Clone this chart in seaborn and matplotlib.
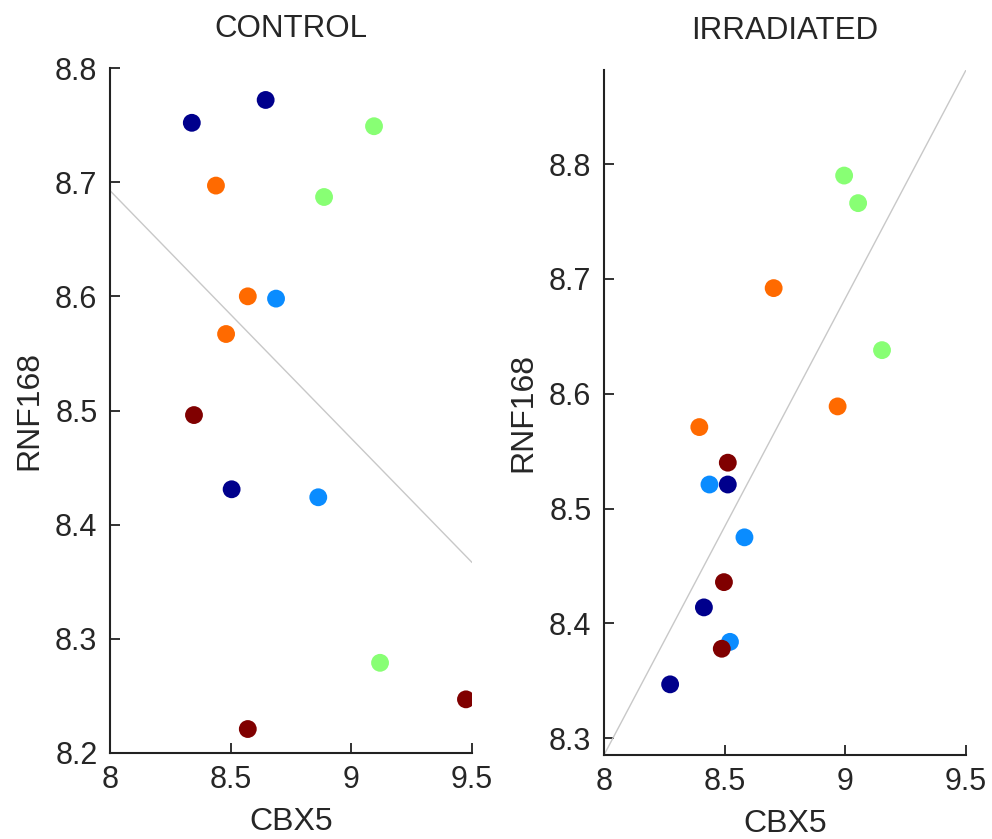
import numpy as np
import pandas as pd
import matplotlib
matplotlib.use("Agg")
import matplotlib.pyplot as plt
import seaborn as sns

sns.set_theme(style="white")
plt.rcParams['font.family'] = ['Liberation Sans', 'DejaVu Sans']
plt.rcParams['xtick.direction'] = 'in'
plt.rcParams['ytick.direction'] = 'in'
plt.rcParams['xtick.bottom'] = True
plt.rcParams['ytick.left'] = True

# ---- data ----
ctrl_x = [8.339, 8.645, 9.094, 8.439, 8.887, 8.571, 8.688, 8.481, 8.348, 8.504, 8.863, 9.119, 9.475, 8.571]
ctrl_y = [8.752, 8.772, 8.749, 8.697, 8.687, 8.600, 8.598, 8.567, 8.496, 8.431, 8.424, 8.279, 8.247, 8.221]
ctrl_g = ["g1", "g1", "g3", "g4", "g3", "g4", "g2", "g4", "g5", "g1", "g2", "g3", "g5", "g5"]

irr_x = [8.995, 9.053, 8.703, 9.152, 8.968, 8.395, 8.513, 8.437, 8.513, 8.582, 8.497, 8.414, 8.522, 8.488, 8.274]
irr_y = [8.790, 8.766, 8.692, 8.638, 8.589, 8.571, 8.540, 8.521, 8.521, 8.475, 8.436, 8.414, 8.384, 8.378, 8.347]
irr_g = ["g3", "g3", "g4", "g3", "g4", "g4", "g5", "g2", "g1", "g2", "g5", "g1", "g2", "g5", "g1"]

groups = ["g1", "g2", "g3", "g4", "g5"]
group_colors = ["#00008C", "#0A8CFF", "#88FF74", "#FF6A00", "#800000"]

titles = ["CONTROL", "IRRADIATED"]
x_label = "CBX5"
y_label = "RNF168"
x_ticks = [8, 8.5, 9, 9.5]
x_ticklabels = ["8", "8.5", "9", "9.5"]
ctrl_yticks = [8.2, 8.3, 8.4, 8.5, 8.6, 8.7, 8.8]
irr_yticks = [8.3, 8.4, 8.5, 8.6, 8.7, 8.8]

ctrl = pd.DataFrame({"x": ctrl_x, "y": ctrl_y, "g": ctrl_g})
irr = pd.DataFrame({"x": irr_x, "y": irr_y, "g": irr_g})

fig = plt.figure(figsize=(9.92, 8.39), dpi=100)
ax1 = fig.add_axes([110/992, 1-753/839, 362/992, 685/839])
ax2 = fig.add_axes([604/992, 1-755/839, 362/992, 685/839])

txt_color = "#262626"
palette = dict(zip(groups, group_colors))

for ax, df, title, yt in [(ax1, ctrl, titles[0], ctrl_yticks), (ax2, irr, titles[1], irr_yticks)]:
    ax.set_xlim(8, 9.5)
    sns.regplot(data=df, x="x", y="y", ax=ax, scatter=False, ci=None, truncate=False,
                line_kws=dict(color="#c8c8c8", lw=1.0, zorder=1))
    sns.scatterplot(data=df, x="x", y="y", hue="g", hue_order=groups, palette=palette,
                    s=165, linewidth=0, ax=ax, legend=False, zorder=3)
    ax.set_xlim(8, 9.5)
    ax.set_xticks(x_ticks)
    ax.set_xticklabels(x_ticklabels)
    ax.set_yticks(yt)
    ax.set_yticklabels([f"{v:.1f}" for v in yt])
    ax.set_title(title, fontsize=22.5, color=txt_color, pad=22)
    ax.set_xlabel(x_label, fontsize=23, color=txt_color, labelpad=8)
    ax.set_ylabel(y_label, fontsize=23, color=txt_color, labelpad=8)
    ax.tick_params(axis="both", which="major", direction="in", length=7, width=1.3,
                   color="#222222", labelsize=22, labelcolor=txt_color, pad=9,
                   bottom=True, left=True, top=False, right=False)
    for s in ["top", "right"]:
        ax.spines[s].set_visible(False)
    for s in ["left", "bottom"]:
        ax.spines[s].set_color("#222222")
        ax.spines[s].set_linewidth(1.5)

ax1.set_ylim(8.2, 8.8)
# right panel limits follow the fitted line across the x range
slope, intercept = np.polyfit(irr_x, irr_y, 1)
ax2.set_ylim(intercept + slope * 8.0, intercept + slope * 9.5)

fig.savefig("out.png", dpi=100)
